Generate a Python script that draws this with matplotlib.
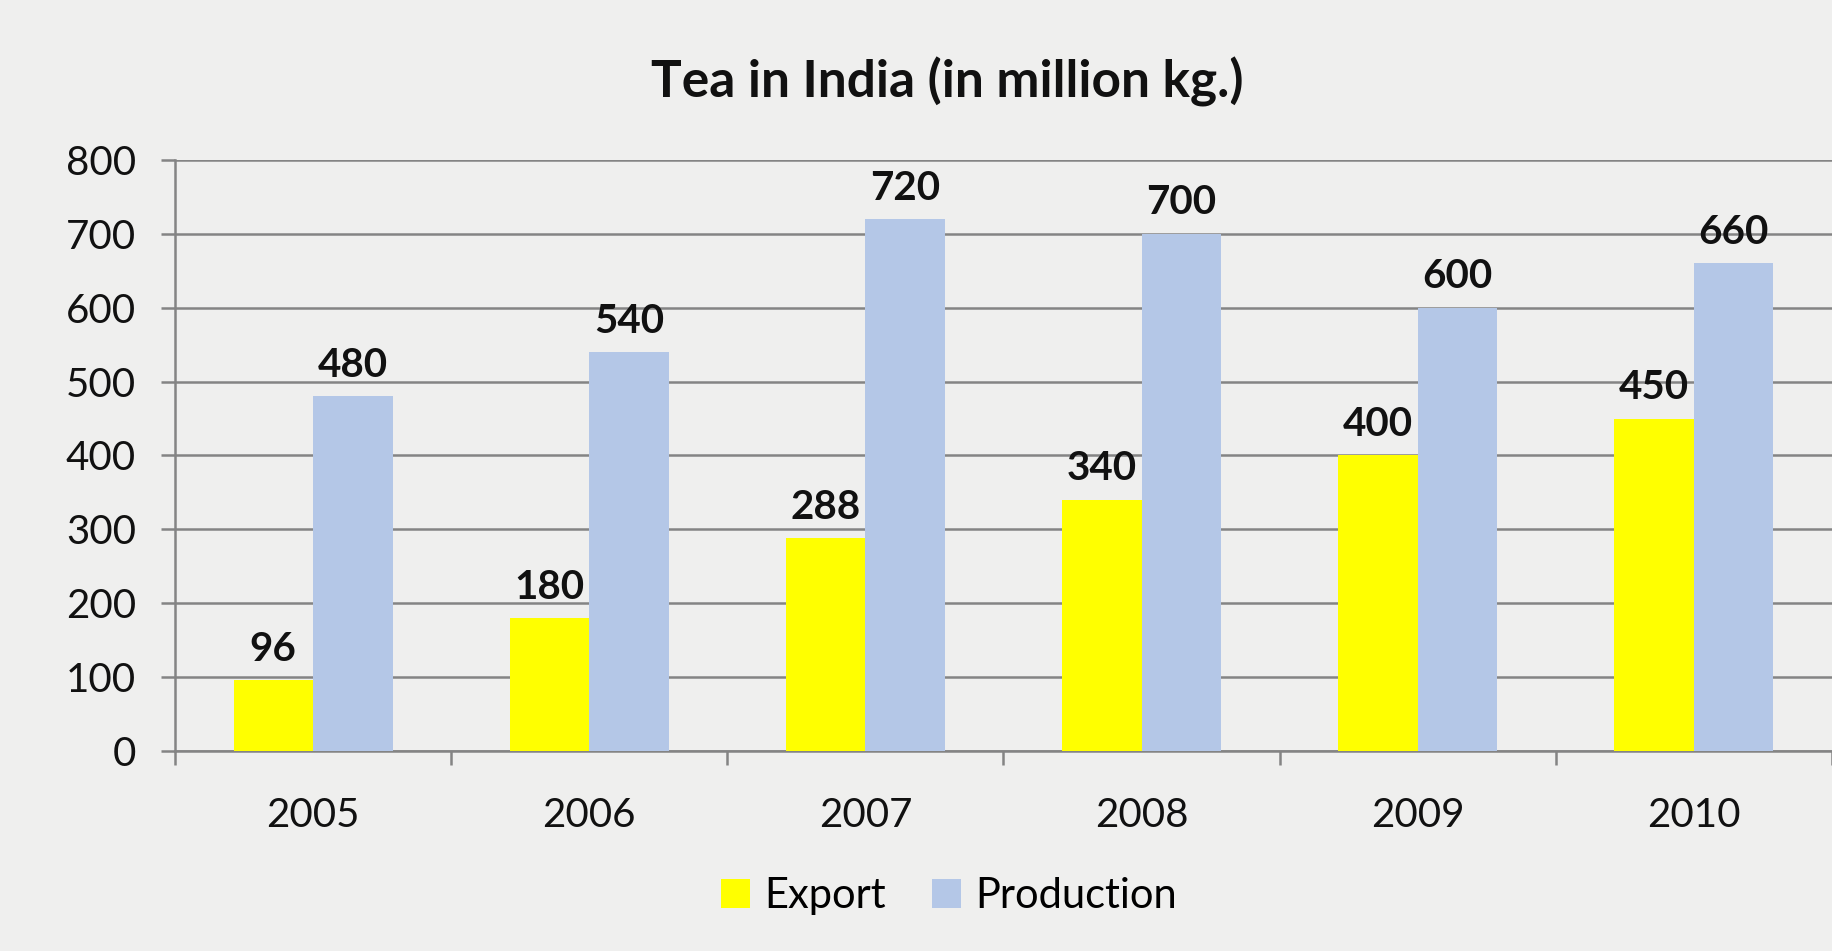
import matplotlib.pyplot as plt
import numpy as np

years = ["2005", "2006", "2007", "2008", "2009", "2010"]
export = [96, 180, 288, 340, 400, 450]
production = [480, 540, 720, 700, 600, 660]

plt.rcParams["font.family"] = ["Lato", "DejaVu Sans"]

bg = "#efefee"
fig = plt.figure(figsize=(18.32, 9.51), dpi=100, facecolor=bg)
ax = fig.add_axes([0.0955, 0.2103, 0.9045, 0.6215])
ax.set_facecolor(bg)

x = np.arange(len(years))
w = 0.288
b1 = ax.bar(x - w / 2, export, w, color="#ffff00", label="Export", zorder=3)
b2 = ax.bar(x + w / 2, production, w, color="#b4c7e7", label="Production", zorder=3)

for bars in (b1, b2):
    for r in bars:
        ax.annotate(f"{r.get_height():.0f}", (r.get_x() + r.get_width() / 2, r.get_height()),
                    xytext=(0, 9), textcoords="offset points", ha="center", va="bottom",
                    fontsize=29, fontweight="bold", color="#111111")

ax.set_xlim(-0.5, 5.5)
ax.set_ylim(0, 800)
ax.set_yticks(range(0, 801, 100))
ax.yaxis.grid(True, color="#848484", linewidth=1.8, zorder=0)
ax.set_xticks(x)
ax.set_xticklabels(years)
ax.set_xticks(np.arange(-0.5, 6, 1), minor=True)
ax.tick_params(axis="x", which="major", length=0, pad=33, labelsize=29, labelcolor="#111111")
ax.tick_params(axis="x", which="minor", length=10, width=1.8, color="#848484")
ax.tick_params(axis="y", length=10, width=1.8, color="#848484", pad=18, labelsize=29, labelcolor="#111111")

for s in ("top", "right"):
    ax.spines[s].set_visible(False)
for s in ("left", "bottom"):
    ax.spines[s].set_color("#848484")
    ax.spines[s].set_linewidth(1.8)

fig.text(0.517, 0.914, "Tea in India (in million kg.)", ha="center", va="center",
         fontsize=37, fontweight="bold", color="#111111")

fig.legend(handles=[b1, b2], loc="center", bbox_to_anchor=(0.518, 0.058), ncol=2,
           frameon=False, fontsize=30, handlelength=0.7, handleheight=0.7,
           handletextpad=0.35, columnspacing=1.1)

fig.savefig("out.png", dpi=100, facecolor=bg)
